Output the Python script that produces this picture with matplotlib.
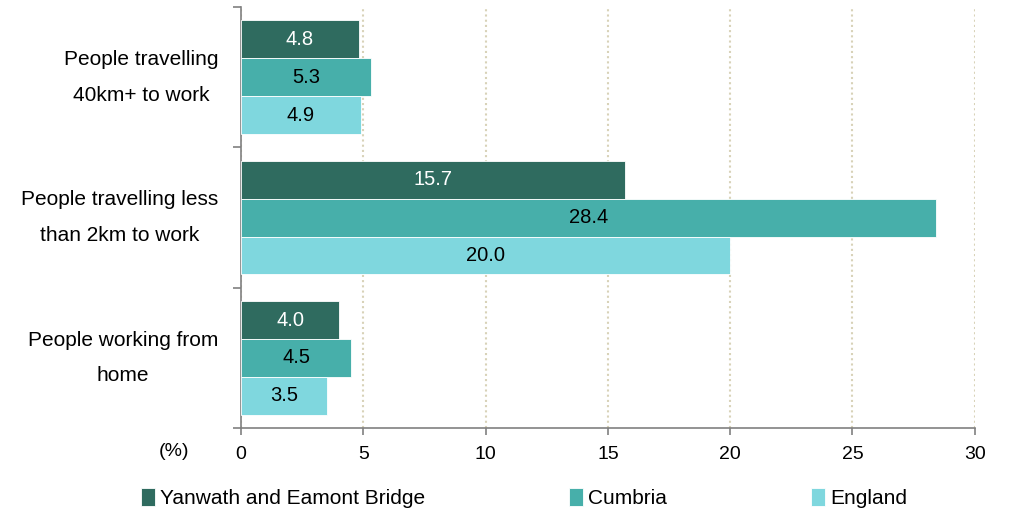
import matplotlib.pyplot as plt
import numpy as np

plt.rcParams['font.family'] = ['Liberation Sans', 'DejaVu Sans']

categories = ['People travelling\n40km+ to work', 'People travelling less\nthan 2km to work', 'People working from\nhome']
series = ['Yanwath and Eamont Bridge', 'Cumbria', 'England']
yanwath = [4.8, 15.7, 4.0]
cumbria = [5.3, 28.4, 4.5]
england = [4.9, 20.0, 3.5]
xticks = [0, 5, 10, 15, 20, 25, 30]

colors = ['#2f6b5f', '#47afaa', '#7fd7de']
text_colors = ['white', 'black', 'black']

fig = plt.figure(figsize=(10.09, 5.12), dpi=100)
ax = fig.add_axes([0.239, 0.164, 0.727, 0.822])

ypos = np.array([2, 1, 0])
h = 0.27
offsets = [h, 0, -h]
for vals, name, c, tc, off in zip([yanwath, cumbria, england], series, colors, text_colors, offsets):
    bars = ax.barh(ypos + off, vals, height=h, color=c, label=name, edgecolor='white', linewidth=0.6, zorder=3)
    for b, v in zip(bars, vals):
        ax.text(v / 2, b.get_y() + h / 2, f'{v:.1f}', ha='center', va='center', color=tc, fontsize=14.5, zorder=4)

ax.set_xlim(0, 30)
ax.set_ylim(-0.5, 2.5)
ax.set_xticks(xticks)
ax.tick_params(axis='x', labelsize=14, length=5, color='#808080', pad=8, width=1.2)
ax.set_yticks([-0.5, 0.5, 1.5, 2.5])
ax.set_yticklabels([])
ax.tick_params(axis='y', length=6, color='#808080', width=1.2)

# category labels: block right-aligned, lines centred
ytrans = ax.get_yaxis_transform()
for y, cat in zip(ypos, categories):
    ax.text(-0.031, y, cat, transform=ytrans, ha='right', va='center', multialignment='center',
            fontsize=15, linespacing=2.1)

for s in ['top', 'right']:
    ax.spines[s].set_visible(False)
for s in ['left', 'bottom']:
    ax.spines[s].set_color('#808080')
    ax.spines[s].set_linewidth(1.2)
ax.grid(axis='x', linestyle=(0, (1, 1.5)), color='#d8d2b8', linewidth=1.5, zorder=0)

fig.text(0.172, 0.118, '(%)', ha='center', va='center', fontsize=14)

fig.legend(loc='center left', bbox_to_anchor=(0.1397, 0.027), ncol=3, frameon=False, fontsize=15,
           handlelength=0.67, handleheight=0.9, handletextpad=0.25, columnspacing=6.9, borderaxespad=0,
           borderpad=0)

fig.savefig('out.png', dpi=100)
